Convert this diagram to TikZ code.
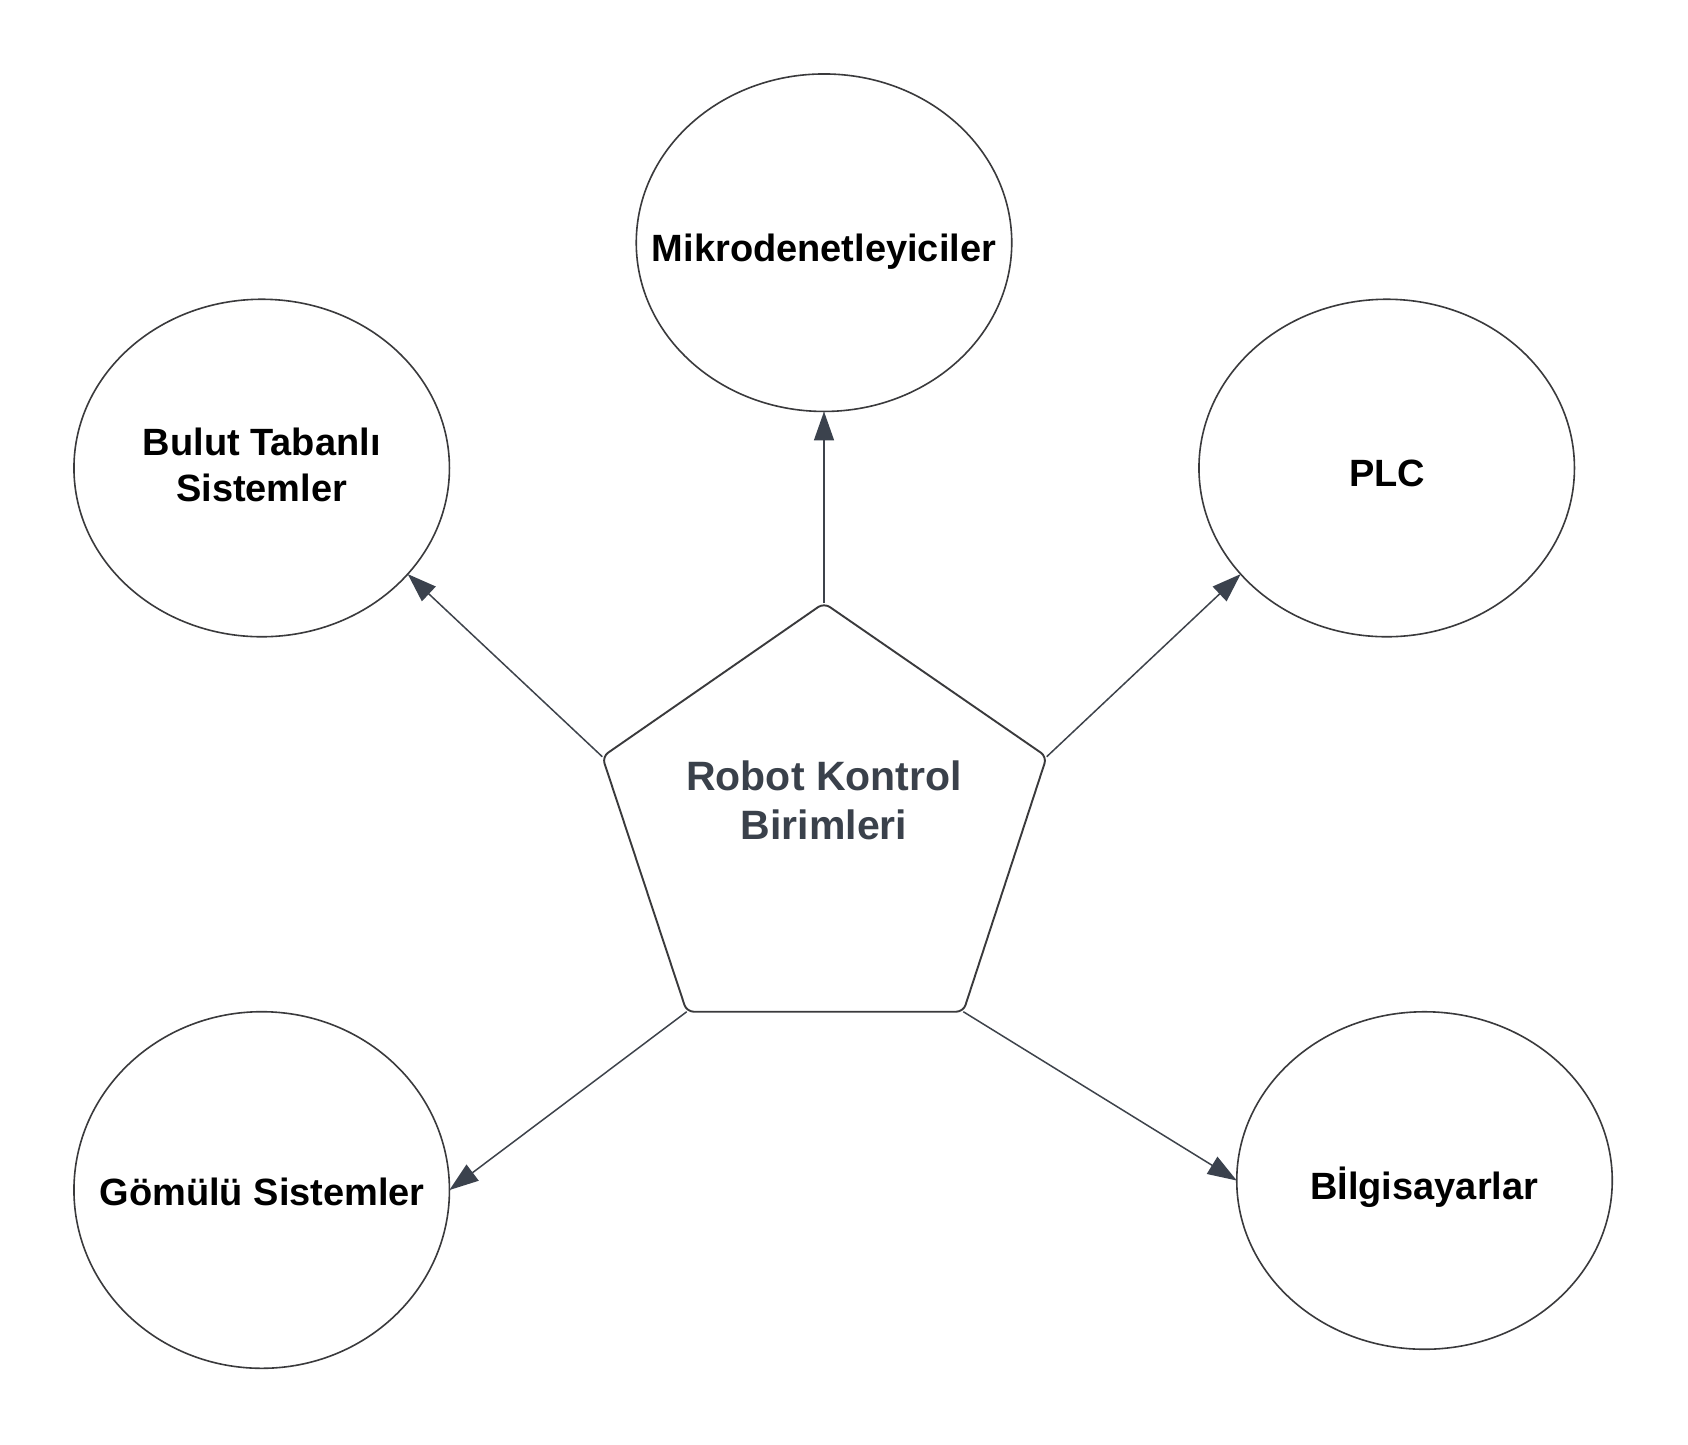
\documentclass[tikz,border=0pt]{standalone}
\usepackage{fontspec}
\setmainfont{Liberation Sans}
\usetikzlibrary{arrows.meta,shapes.geometric}
\definecolor{ringcol}{RGB}{58,58,60}
\definecolor{linkcol}{RGB}{62,67,75}
\definecolor{tipcol}{RGB}{59,66,77}
\definecolor{hubtext}{RGB}{58,65,75}
\tikzset{
  ring/.style={ellipse, draw=ringcol, line width=1.6pt, minimum width=375.5pt, minimum height=337.5pt, inner sep=0pt, outer sep=0pt},
  ringtext/.style={font=\fontsize{38}{46.7}\selectfont\bfseries, text=black, inner sep=0pt, align=center},
  hubshape/.style={draw=ringcol, line width=1.9pt, rounded corners=7pt, line join=round},
  hubtextstyle/.style={font=\fontsize{41}{49}\selectfont\bfseries, text=hubtext, inner sep=0pt, align=center},
  link/.style={draw=linkcol, line width=1.5pt, -{Triangle[length=29pt, width=20pt, color=tipcol]}}
}
\begin{document}
\begin{tikzpicture}[x=1pt, y=-1pt]
\useasboundingbox (0,0) rectangle (1688,1444);
\fill[white] (0,0) rectangle (1688,1444);

% outer ellipses
\node[ring] (mikro) at (824,242.7) {};
\node[ring] (bulut) at (261.7,468) {};
\node[ring] (plc) at (1386.7,468) {};
\node[ring, minimum height=356.6pt] (gomulu) at (261.7,1190) {};
\node[ring] (bilgi) at (1424.5,1180.5) {};

% texts of ellipses
\node[ringtext, anchor=base] (mikro-t) at (824,261.7) {Mikrodenetleyiciler};
\node[ringtext, anchor=center] (bulut-t) at (261.7,464.9) {Bulut Tabanlı\\Sistemler};
\node[ringtext, anchor=base] (plc-t) at (1387.3,486) {PLC};
\node[ringtext, anchor=base] (gomulu-t) at (262.2,1205) {Gömülü Sistemler};
\node[ringtext, anchor=base] (bilgi-t) at (1424.2,1199.3) {Bİlgisayarlar};

% central pentagon
\coordinate (ptop) at (824,603);
\coordinate (pleft) at (602.3,756.7);
\coordinate (pright) at (1046.7,756.7);
\coordinate (pbl) at (686.7,1011.7);
\coordinate (pbr) at (963.3,1011.7);
\draw[hubshape] (ptop) -- (pright) -- (pbr) -- (pbl) -- (pleft) -- cycle;
\node[hubtextstyle, anchor=center] (robot) at (824,800.2) {Robot Kontrol\\Birimleri};

% connectors
\draw[link] (ptop) -- (mikro.south);
\draw[link] (pleft) -- (bulut.-36);
\draw[link] (pright) -- (plc.-144);
\draw[link] (pbl) -- (gomulu.east);
\draw[link] (pbr) -- (bilgi.west);
\end{tikzpicture}
\end{document}
